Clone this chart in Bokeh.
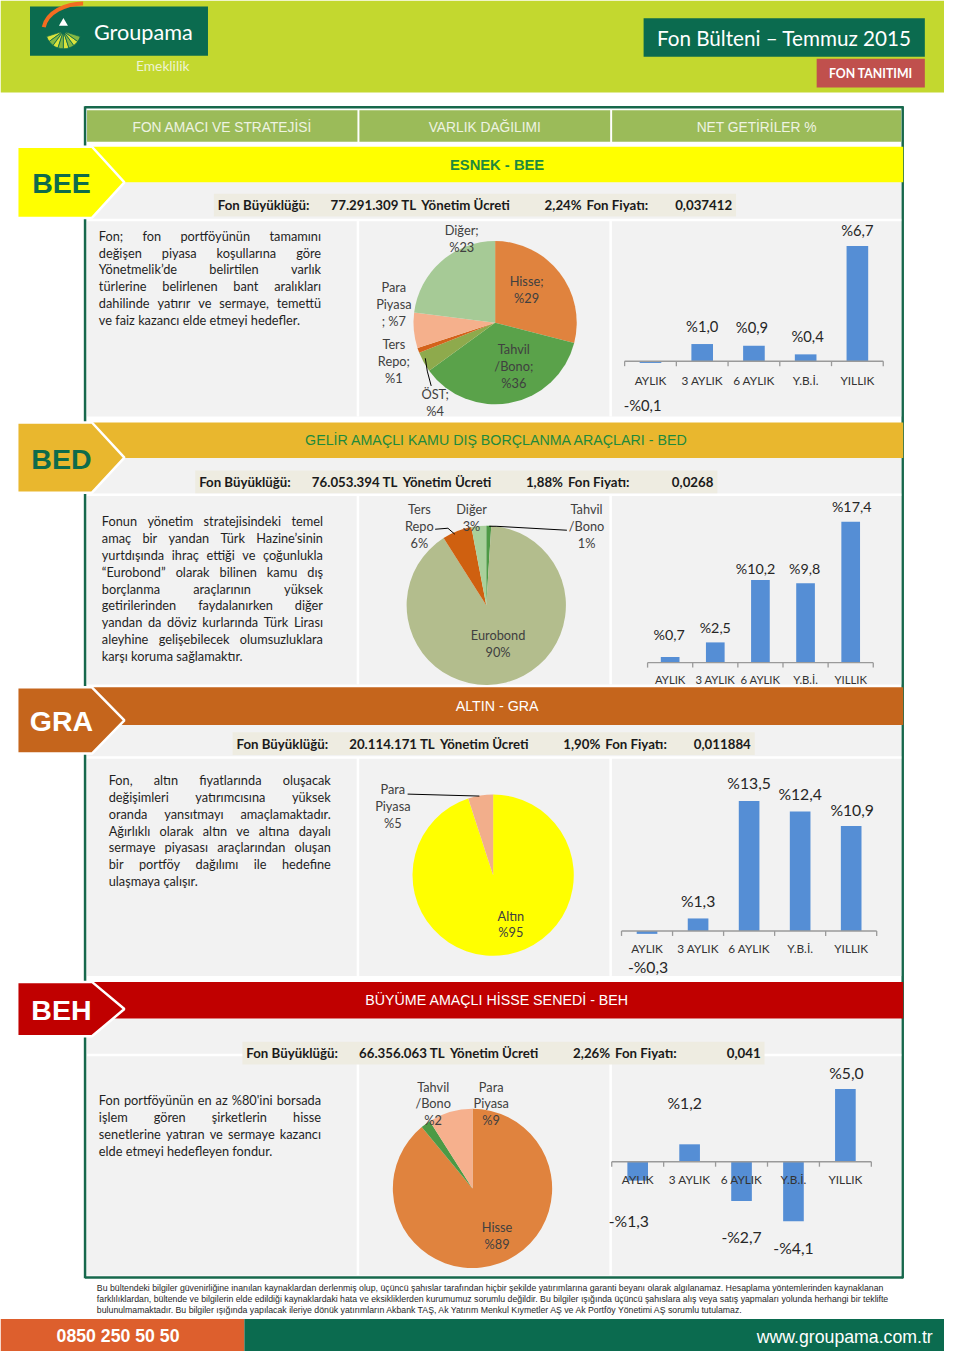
import os
import glob
import numpy as np
from bokeh.plotting import figure
from bokeh.models import Range1d
from bokeh.core.properties import value
from bokeh.embed import file_html
from bokeh.resources import INLINE

# ------------------------------------------------------------------ data
periods = ["AYLIK", "3 AYLIK", "6 AYLIK", "Y.B.İ.", "YILLIK"]

bee_returns = [-0.1, 1.0, 0.9, 0.4, 6.7]
bed_returns = [0.7, 2.5, 10.2, 9.8, 17.4]
gra_returns = [-0.3, 1.3, 13.5, 12.4, 10.9]
beh_returns = [-1.3, 1.2, -2.7, -4.1, 5.0]

bee_assets = ["Hisse", "Tahvil/Bono", "ÖST", "Ters Repo", "Para Piyasa", "Diğer"]
bee_weights = [29, 36, 4, 1, 7, 23]
bed_assets = ["Tahvil/Bono", "Eurobond", "Ters Repo", "Diğer"]
bed_weights = [1, 90, 6, 3]
gra_assets = ["Altın", "Para Piyasa"]
gra_weights = [95, 5]
beh_assets = ["Hisse", "Tahvil/Bono", "Para Piyasa"]
beh_weights = [89, 2, 9]

fund_codes = ["BEE", "BED", "GRA", "BEH"]
fund_names = ["ESNEK - BEE",
              "GELİR AMAÇLI KAMU DIŞ BORÇLANMA ARAÇLARI - BED",
              "ALTIN - GRA",
              "BÜYÜME AMAÇLI HİSSE SENEDİ - BEH"]
fund_sizes = ["77.291.309 TL", "76.053.394 TL", "20.114.171 TL", "66.356.063 TL"]
fund_fees = ["2,24%", "1,88%", "1,90%", "2,26%"]
fund_prices = ["0,037412", "0,0268", "0,011884", "0,041"]

tab_labels = ["FON AMACI VE STRATEJİSİ", "VARLIK DAĞILIMI", "NET GETİRİLER %"]

bee_text = ["Fon; fon portföyünün tamamını",
            "değişen piyasa koşullarına göre",
            "Yönetmelik’de belirtilen varlık",
            "türlerine belirlenen bant aralıkları",
            "dahilinde yatırır ve sermaye, temettü",
            "ve faiz kazancı elde etmeyi hedefler."]
bed_text = ["Fonun yönetim stratejisindeki temel",
            "amaç bir yandan Türk Hazine’sinin",
            "yurtdışında ihraç ettiği ve çoğunlukla",
            "“Eurobond” olarak bilinen kamu dış",
            "borçlanma araçlarının yüksek",
            "getirilerinden faydalanırken diğer",
            "yandan da döviz kurlarında Türk Lirası",
            "aleyhine gelişebilecek olumsuzluklara",
            "karşı koruma sağlamaktır."]
gra_text = ["Fon, altın fiyatlarında oluşacak",
            "değişimleri yatırımcısına yüksek",
            "oranda yansıtmayı amaçlamaktadır.",
            "Ağırlıklı olarak altın ve altına dayalı",
            "sermaye piyasası araçlarından oluşan",
            "bir portföy dağılımı ile hedefine",
            "ulaşmaya çalışır."]
beh_text = ["Fon portföyünün en az %80'ini borsada",
            "işlem gören şirketlerin hisse",
            "senetlerine yatıran ve sermaye kazancı",
            "elde etmeyi hedefleyen fondur."]

disclaimer = [
    "Bu bültendeki bilgiler güvenirliğine inanılan kaynaklardan derlenmiş olup, üçüncü şahıslar tarafından hiçbir şekilde yatırımlarına garanti beyanı olarak algılanamaz. Hesaplama yöntemlerinden kaynaklanan",
    "farklılıklardan, bültende ve bilgilerin elde edildiği kaynaklardaki hata ve eksikliklerden kurumumuz sorumlu değildir. Bu bilgiler ışığında üçüncü şahıslara alış veya satış yapmaları yolunda herhangi bir teklifte",
    "bulunulmamaktadır. Bu bilgiler ışığında yapılacak ileriye dönük yatırımların Akbank TAŞ, Ak Yatırım Menkul Kıymetler AŞ ve Ak Portföy Yönetimi AŞ sorumlu tutulamaz.",
]
phone = "0850 250 50 50"
website = "www.groupama.com.tr"

# ------------------------------------------------------------------ fonts / measuring
def find_font(fname):
    for d in ["/usr/share/fonts", "/usr/local/share/fonts",
              os.path.expanduser("~/.fonts"), os.path.expanduser("~/.local/share/fonts")]:
        if os.path.isdir(d):
            hits = glob.glob(os.path.join(d, "**", fname), recursive=True)
            if hits:
                return hits[0]
    return None

try:
    from PIL import ImageFont
except Exception:
    ImageFont = None

_FC = {}
def text_w(s, path, size, fallback=0.5):
    if ImageFont is not None and path:
        try:
            if path not in _FC:
                _FC[path] = ImageFont.truetype(path, 100)
            return _FC[path].getlength(s) * size / 100.0
        except Exception:
            pass
    return len(s) * size * fallback

LATO_R = find_font("Lato-Regular.ttf")
NARROW = find_font("LiberationSansNarrow-Regular.ttf")
LIB_R = find_font("LiberationSans-Regular.ttf")

# ------------------------------------------------------------------ figure
W_PX, H_PX = 944, 1351
XL, XR, YT, YB = 0, 960, 0, 1367
SC = W_PX / (XR - XL)          # screen px per layout unit (for font sizes)

p = figure(width=W_PX, height=H_PX, x_range=Range1d(XL, XR), y_range=Range1d(YB, YT),
           output_backend="svg", toolbar_location=None, min_border=0,
           x_axis_location=None, y_axis_location=None,
           background_fill_color="white", border_fill_color="white",
           outline_line_color=None)
p.xgrid.visible = False
p.ygrid.visible = False

def fs(size):
    return value(f"{size * SC:.2f}px")

TXT = []
def T(x, y, s, size=13, color="#404040", font="Lato", align="center", style="normal"):
    TXT.append((x, y, s, font, float(size), color, align, style))

def flush_text():
    groups = {}
    for x, y, s, font, size, color, align, style in TXT:
        groups.setdefault((font, size, color, align, style), []).append((x, y, s))
    for (font, size, color, align, style), items in groups.items():
        p.text(x=[i[0] for i in items], y=[i[1] for i in items], text=[i[2] for i in items],
               text_font=value(font), text_font_size=fs(size),
               text_color=color, text_align=align, text_baseline="middle",
               text_font_style=style)

def rect(l, r, t, b, color):
    p.quad(left=l, right=r, top=t, bottom=b, fill_color=color, line_color=None)

# ------------------------------------------------------------------ header
rect(0, 960, 0, 93, "#C3D82F")
rect(30, 211, 6, 56, "#0B6B4F")
fan = np.radians(np.linspace(198, 342, 9))
p.annular_wedge(x=64, y=31, inner_radius=3, outer_radius=18,
                start_angle=fan[:-1], end_angle=fan[1:],
                fill_color=["#DCE33C", "#86B843"] * 4, line_color="#0B6B4F", line_width=0.8)
p.bezier(x0=44, y0=27, x1=84, y1=3, cx0=47, cy0=12, cx1=66, cy1=3,
         line_color="#F36C21", line_width=4)
p.scatter(x=[64], y=[23], marker="triangle", size=9, fill_color="white", line_color=None)
T(95, 32, "Groupama", 22, "white", "Lato", "left")
T(165, 66, "Emeklilik", 14, "#EEF4D2", "Lato", "center")
rect(654, 940, 18, 57, "#0B6B4F")
T(797, 38, "Fon Bülteni – Temmuz 2015", 21, "white", "Lato", "center")
rect(830, 940, 59, 88, "#C0504D")
T(885, 74, "FON TANITIMI", 12.5, "white", "Lato", "center", "bold")

# ------------------------------------------------------------------ frame + tab bar
FRAME = "#17684C"
p.multi_line(xs=[[86, 86], [917.5, 917.5], [86, 918], [86, 918]],
             ys=[[107, 1293], [107, 1293], [108, 108], [1292, 1292]],
             line_color=FRAME, line_width=2.5)
tabs = [(88, 363), (365, 620), (622, 916)]
for (l, r), lab in zip(tabs, tab_labels):
    rect(l, r, 111, 143, "#9BBB59")
    T((l + r) / 2, 128, lab, 14, "#EEF3E2", "Liberation Sans", "center")

# ------------------------------------------------------------------ sections
SEC = [
    dict(band="#FFFF00", code_col="#0E6B4B", title_col="#1E8A3C", bold=True,
         top=148, mid=184, lab_bot=220, gray_bot=421, sep=222, info_x=221, info_y=207,
         para=bee_text, px0=100, px1=326, py0=238),
    dict(band="#E9B72E", code_col="#0E6B4B", title_col="#1E8A3C", bold=False,
         top=427, mid=463, lab_bot=498, gray_bot=692, sep=500, info_x=202, info_y=487,
         para=bed_text, px0=103, px1=328, py0=527),
    dict(band="#C5651C", code_col="white", title_col="white", bold=False,
         top=695, mid=733, lab_bot=762, gray_bot=987, sep=766, info_x=240, info_y=752,
         para=gra_text, px0=110, px1=336, py0=789),
    dict(band="#C00000", code_col="white", title_col="white", bold=False,
         top=993, mid=1030, lab_bot=1048, gray_bot=1290, sep=1067, info_x=250, info_y=1065,
         para=beh_text, px0=100, px1=326, py0=1113),
]

def paragraph(lines, x0, x1, y0, dy=17.0, size=13.0, color="#1F1F1F"):
    W = x1 - x0
    nat = max(text_w(l, LATO_R, 1.0) for l in lines)
    if nat > 0:
        size = min(size, 0.985 * W / nat)
    for i, line in enumerate(lines):
        y = y0 + i * dy
        words = line.split()
        if i == len(lines) - 1 or len(words) < 2:
            T(x0, y, line, size, color, "Lato", "left")
            continue
        ws = [text_w(w, LATO_R, size) for w in words]
        gap = (W - sum(ws)) / (len(words) - 1)
        x = x0
        for w, ww in zip(words, ws):
            T(x, y, w, size, color, "Lato", "left")
            x += ww + gap

for k, s in enumerate(SEC):
    rect(88, 916, s["mid"], s["gray_bot"], "#F2F2F2")
    p.multi_line(xs=[[88, 916], [363.5, 363.5], [620.5, 620.5]],
                 ys=[[s["sep"], s["sep"]], [s["sep"], s["gray_bot"]], [s["sep"], s["gray_bot"]]],
                 line_color="white", line_width=2.5)
    rect(93, 918, s["top"], s["mid"], s["band"])
    cy = (s["top"] + s["lab_bot"]) / 2
    p.patch(x=[17, 93, 126, 93, 17], y=[s["top"], s["top"], cy, s["lab_bot"], s["lab_bot"]],
            fill_color=s["band"], line_color="white", line_width=2.5)
    T(62, cy + 1, fund_codes[k], 29, s["code_col"], "Liberation Sans", "center", "bold")
    T(505, (s["top"] + s["mid"]) / 2, fund_names[k], 15 if s["bold"] else 14.5, s["title_col"],
      "Liberation Sans", "center", "bold" if s["bold"] else "normal")
    ix, iy = s["info_x"], s["info_y"]
    rect(ix - 4, ix + 527, iy - 11.5, iy + 11.5, "#EEECE1")
    ic = "#1A1A1A"
    T(ix, iy, "Fon Büyüklüğü:", 13.5, ic, "Lato", "left", "bold")
    T(ix + 202, iy, fund_sizes[k], 13.5, ic, "Lato", "right", "bold")
    T(ix + 207, iy, "Yönetim Ücreti", 13.5, ic, "Lato", "left", "bold")
    T(ix + 370, iy, fund_fees[k], 13.5, ic, "Lato", "right", "bold")
    T(ix + 375, iy, "Fon Fiyatı:", 13.5, ic, "Lato", "left", "bold")
    T(ix + 523, iy, fund_prices[k], 13.5, ic, "Lato", "right", "bold")
    paragraph(s["para"], s["px0"], s["px1"], s["py0"])

# ------------------------------------------------------------------ pies
def pie(cx, cy, r, weights, colors):
    w = np.asarray(weights, dtype=float)
    cum = np.concatenate([[0.0], np.cumsum(w / w.sum())])
    start = np.pi / 2 - 2 * np.pi * cum[:-1]
    end = np.pi / 2 - 2 * np.pi * cum[1:]
    p.wedge(x=cx, y=cy, radius=r,
            start_angle=start, end_angle=end, direction="clock",
            fill_color=colors, line_color=None)

PIE_TXT = "#404040"
pie(503, 326, 83, bee_weights, ["#E0833E", "#5AA24A", "#8EAA4C", "#D4621A", "#F5B08C", "#A6CA96"])
pie(494, 612, 81, bed_weights, ["#4E9A46", "#B3BD8D", "#CF6010", "#A9D09B"])
pie(501, 885, 82, gra_weights, ["#FFFF00", "#F2AE8B"])
pie(480, 1202, 81, beh_weights, ["#E0833E", "#4C9A45", "#F6B08D"])

p.multi_line(xs=[[432, 434, 438], [442, 455, 462], [576, 504, 497], [414, 487]],
             ys=[[362, 375, 390], [535, 534, 540], [536, 532, 532], [803, 805]],
             line_color="black", line_width=1)

def pie_labels(specs, weights, size=13):
    for idx, lines, x, y in specs:
        for j, ln in enumerate(lines):
            T(x, y + 17 * j, ln.format(p=weights[idx]), size, PIE_TXT, "Lato", "center")

pie_labels([(5, ["Diğer;", "%{p}"], 469, 232),
            (0, ["Hisse;", "%{p}"], 535, 284),
            (4, ["Para", "Piyasa", "; %{p}"], 400, 290),
            (3, ["Ters", "Repo;", "%{p}"], 400, 348),
            (1, ["Tahvil", "/Bono;", "%{p}"], 522, 353),
            (2, ["ÖST;", "%{p}"], 442, 398)], bee_weights)
pie_labels([(2, ["Ters", "Repo", "{p}%"], 426, 515),
            (3, ["Diğer", "{p}%"], 479, 515),
            (0, ["Tahvil", "/Bono", "{p}%"], 596, 515),
            (1, ["Eurobond", "{p}%"], 506, 642)], bed_weights)
pie_labels([(1, ["Para", "Piyasa", "%{p}"], 399, 798),
            (0, ["Altın", "%{p}"], 519, 926)], gra_weights)
pie_labels([(1, ["Tahvil", "/Bono", "%{p}"], 440, 1099),
            (2, ["Para", "Piyasa", "%{p}"], 499, 1099),
            (0, ["Hisse", "%{p}"], 505, 1241)], beh_weights)

# ------------------------------------------------------------------ return bar charts
BAR = "#558ED5"
AXIS = "#9A9A9A"

def fmt(v):
    return ("-%" if v < 0 else "%") + f"{abs(v):.1f}".replace(".", ",")

def bars(name, vals, x0, step, base, scale, bw, lbl_dy, lbl_dx, vsize, csize, cat_dy):
    xr, yr = name + "_x", name + "_y"
    p.extra_x_ranges[xr] = Range1d(start=(XL - x0) / step, end=(XR - x0) / step)
    p.extra_y_ranges[yr] = Range1d(start=(base - YB) / scale, end=(base - YT) / scale)
    v = np.asarray(vals, dtype=float)
    idx = np.arange(len(v), dtype=float)
    p.vbar(x=idx, top=v, bottom=0, width=bw / step, fill_color=BAR, line_color=None,
           x_range_name=xr, y_range_name=yr)
    p.segment(x0=-0.5, y0=0, x1=len(v) - 0.5, y1=0, line_color=AXIS, line_width=1.3,
              x_range_name=xr, y_range_name=yr)
    tk = np.arange(len(v) + 1) - 0.5
    p.segment(x0=tk, y0=np.zeros_like(tk), x1=tk, y1=np.full_like(tk, -5.0 / scale),
              line_color=AXIS, line_width=1.3, x_range_name=xr, y_range_name=yr)
    p.text(x=idx, y=np.full_like(idx, -cat_dy / scale), text=periods,
           text_font=value("Lato"), text_font_size=fs(csize), text_color="#333333",
           text_align="center", text_baseline="middle", x_range_name=xr, y_range_name=yr)
    p.text(x=idx + np.asarray(lbl_dx) / step, y=v - np.asarray(lbl_dy) / scale,
           text=[fmt(a) for a in v],
           text_font=value("Lato"), text_font_size=fs(vsize), text_color="#262626",
           text_align="center", text_baseline="middle", x_range_name=xr, y_range_name=yr)

bars("bee", bee_returns, 661, 52.6, 365, 17.4, 22,
     [43, -18, -19, -19, -16], [-8, 0, -2, 2, 0], 15, 12, 19.5)
bars("bed", bed_returns, 681, 45.9, 670, 8.2, 19,
     [-23, -15, -12, -15, -15], [-1, 0, -5, -1, 1], 14.5, 11.5, 17)
bars("gra", gra_returns, 657.5, 51.9, 941.5, 9.75, 21,
     [33, -18, -19, -18, -17], [1, 0, 0, 0, 1], 16, 12, 17.5)
bars("beh", beh_returns, 648, 52.8, 1175, 14.7, 21,
     [40, -42, 36, 27, -17], [-9, -5, 0, 0, 1], 16, 12, 18)

# ------------------------------------------------------------------ footer
dfont, dpath = ("Liberation Sans Narrow", NARROW) if NARROW else ("Liberation Sans", LIB_R)
dsize = 805.0 / max(text_w(disclaimer[1], dpath, 1.0, 0.47), 1.0)
for j, ln in enumerate(disclaimer):
    T(98, 1303 + 11 * j, ln, round(dsize, 2), "#262626", dfont, "left")
rect(0, 248, 1334, 1367, "#DD5F2D")
rect(248, 960, 1334, 1367, "#0B6B4F")
T(57, 1351, phone, 18, "white", "Liberation Sans", "left", "bold")
T(948, 1352, website, 18, "white", "Liberation Sans", "right")

flush_text()

open("out.html", "w").write(file_html(p, INLINE))
